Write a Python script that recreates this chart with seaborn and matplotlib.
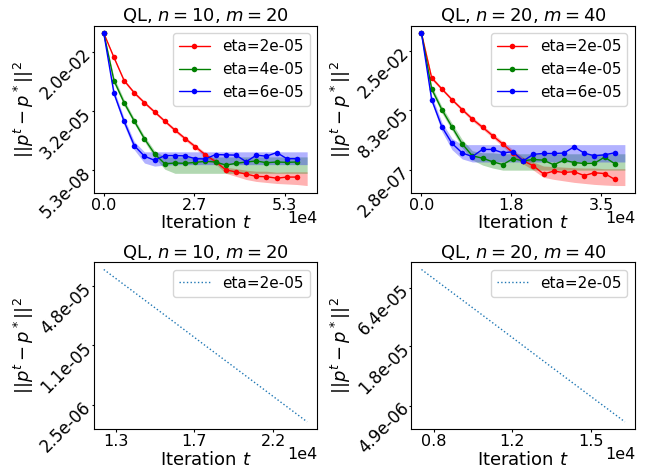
import matplotlib
matplotlib.use("Agg")
import matplotlib.pyplot as plt
from matplotlib.ticker import NullLocator, NullFormatter
import seaborn as sns

# ---------------- QL, n=10, m=20 (mean error, recorded every 3000 iterations) ----------------
iters_a = list(range(0, 57001, 3000))
band_iters_a = list(range(0, 60001, 3000))
err_a_eta2 = [1.52e-1, 1.10e-2, 9.0e-4, 2.39e-4, 8.2e-5, 3.0e-5, 1.11e-5, 4.2e-6, 1.69e-6, 7.0e-7,
              2.88e-7, 1.37e-7, 5.7e-8, 4.5e-8, 3.6e-8, 2.8e-8, 2.7e-8, 2.3e-8, 2.6e-8, 2.6e-8]
err_a_eta4 = [1.52e-1, 9.0e-4, 8.2e-5, 1.11e-5, 1.64e-6, 3.2e-7, 1.10e-7, 1.19e-7, 1.15e-7, 1.28e-7,
              1.43e-7, 1.33e-7, 9.5e-8, 1.15e-7, 1.33e-7, 1.48e-7, 1.23e-7, 1.33e-7, 1.28e-7, 1.33e-7]
err_a_eta6 = [1.52e-1, 2.29e-4, 1.08e-5, 7.8e-7, 2.49e-7, 1.60e-7, 2.67e-7, 2.67e-7, 2.58e-7, 1.91e-7,
              1.85e-7, 2.98e-7, 2.88e-7, 2.79e-7, 1.37e-7, 2.79e-7, 2.49e-7, 3.7e-7, 1.91e-7, 1.91e-7]
hi_a_eta2 = [1.52e-1, 1.26e-2, 1.04e-3, 2.75e-4, 9.6e-5, 3.56e-5, 1.31e-5, 5.1e-6, 2.0e-6, 8.7e-7, 3.6e-7,
             1.75e-7, 7.6e-8, 6.5e-8, 5.5e-8, 4.9e-8, 4.9e-8, 4.4e-8, 4.6e-8, 4.6e-8, 4.6e-8]
lo_a_eta2 = [1.52e-1, 9.5e-3, 7.5e-4, 1.98e-4, 6.9e-5, 2.55e-5, 9.4e-6, 3.47e-6, 1.36e-6, 5.6e-7, 2.18e-7,
             1.06e-7, 3.9e-8, 2.8e-8, 2.0e-8, 1.62e-8, 1.45e-8, 1.30e-8, 1.23e-8, 1.16e-8, 1.04e-8]
hi_a_eta4 = [1.52e-1, 1.30e-3, 1.14e-4, 1.47e-5, 2.23e-6, 4.5e-7, 2.31e-7] + [2.31e-7] * 14
lo_a_eta4 = [1.52e-1, 6.7e-4, 5.9e-5, 8.4e-6, 1.21e-6, 2.18e-7, 6.1e-8] + [3.9e-8] * 14
hi_a_eta6 = [1.52e-1, 3.4e-4, 1.55e-5, 1.21e-6, 4.0e-7, 4.0e-7, 4.0e-7] + [4.0e-7] * 14
lo_a_eta6 = [1.52e-1, 1.58e-4, 7.1e-6, 5.0e-7, 1.19e-7, 8.5e-8, 9.5e-8] + [1.0e-7] * 14
xticks_a = [0, 26667, 53333]
xlabels_a = ["0.0", "2.7", "5.3"]
yticks_a = [2.0e-2, 3.2e-5, 5.3e-8]
ylabels_a = ["2.0e-02", "3.2e-05", "5.3e-08"]

# ---------------- QL, n=20, m=40 (mean error, recorded every 2000 iterations) ----------------
iters_b = list(range(0, 38001, 2000))
band_iters_b = list(range(0, 40001, 2000))
err_b_eta2 = [1.32e-1, 1.84e-3, 6.4e-4, 2.29e-4, 8.9e-5, 3.58e-5, 1.64e-5, 7.3e-6, 3.27e-6, 1.42e-6,
              6.6e-7, 4.1e-7, 1.88e-7, 2.45e-7, 2.16e-7, 2.33e-7, 1.61e-7, 2.11e-7, 1.95e-7, 1.12e-7]
err_b_eta4 = [1.32e-1, 6.4e-4, 8.9e-5, 1.69e-5, 3.36e-6, 1.06e-6, 8.5e-7, 6.0e-7, 4.6e-7, 8.1e-7,
              6.6e-7, 7.5e-7, 7.0e-7, 4.5e-7, 7.0e-7, 5.6e-7, 5.1e-7, 5.2e-7, 9.4e-7, 5.0e-7]
err_b_eta6 = [1.32e-1, 2.29e-4, 1.72e-5, 3.50e-6, 1.40e-6, 9.9e-7, 1.96e-6, 1.96e-6, 1.42e-6, 1.57e-6,
              6.5e-7, 1.23e-6, 1.33e-6, 1.33e-6, 1.38e-6, 2.51e-6, 1.38e-6, 1.06e-6, 1.17e-6, 1.42e-6]
hi_b_eta2 = [1.32e-1, 2.17e-3, 7.4e-4, 2.65e-4, 1.05e-4, 4.36e-5, 1.99e-5, 9.1e-6, 4.17e-6, 1.91e-6, 9.2e-7,
             5.9e-7, 4.0e-7, 3.8e-7, 3.6e-7, 3.4e-7, 3.3e-7, 3.3e-7, 3.1e-7, 3.1e-7, 3.1e-7]
lo_b_eta2 = [1.32e-1, 1.54e-3, 5.5e-4, 1.98e-4, 7.5e-5, 2.94e-5, 1.35e-5, 5.9e-6, 2.56e-6, 1.06e-6, 4.9e-7,
             2.70e-7, 1.36e-7, 1.12e-7, 9.7e-8, 8.4e-8, 7.6e-8, 6.9e-8, 6.5e-8, 6.2e-8, 6.2e-8]
hi_b_eta4 = [1.32e-1, 8.6e-4, 1.21e-4, 2.42e-5, 5.1e-6, 1.73e-6, 1.42e-6, 1.42e-6] + [1.29e-6] * 13
lo_b_eta4 = [1.32e-1, 4.78e-4, 6.4e-5, 1.22e-5, 2.32e-6, 7.2e-7, 4.4e-7, 3.3e-7] + [2.70e-7] * 13
hi_b_eta6 = [1.32e-1, 3.39e-4, 2.67e-5, 5.6e-6, 3.1e-6] + [3.1e-6] * 16
lo_b_eta6 = [1.32e-1, 1.71e-4, 1.11e-5, 1.91e-6, 7.9e-7] + [5.9e-7] * 16
xticks_b = [0, 17667, 35333]
xlabels_b = ["0.0", "1.8", "3.5"]
yticks_b = [2.5e-2, 8.3e-5, 2.8e-7]
ylabels_b = ["2.5e-02", "8.3e-05", "2.8e-07"]

# ---------------- late-phase decay, eta=2e-05 ----------------
iters_c = [12000, 13500, 15000, 16500, 18000, 19500, 21000, 22500, 24000]
err_c = [7.31e-5, 4.55e-5, 2.83e-5, 1.76e-5, 1.09e-5, 6.79e-6, 4.22e-6, 2.62e-6, 1.63e-6]
xticks_c = [12700, 17350, 22000]
xlabels_c = ["1.3", "1.7", "2.2"]
yticks_c = [4.8e-5, 1.1e-5, 2.5e-6]
ylabels_c = ["4.8e-05", "1.1e-05", "2.5e-06"]

iters_d = [7500, 8650, 9800, 10950, 12100, 13250, 14400, 15550, 16700]
err_d = [9.57e-5, 6.32e-5, 4.18e-5, 2.76e-5, 1.82e-5, 1.20e-5, 7.94e-6, 5.25e-6, 3.47e-6]
xticks_d = [8050, 11600, 15150]
xlabels_d = ["0.8", "1.2", "1.5"]
yticks_d = [6.4e-5, 1.8e-5, 4.9e-6]
ylabels_d = ["6.4e-05", "1.8e-05", "4.9e-06"]

eta_labels = ["eta=2e-05", "eta=4e-05", "eta=6e-05"]
eta_colors = ["red", "green", "blue"]

sns.set_style("ticks", {"axes.edgecolor": "black", "xtick.color": "black", "ytick.color": "black",
                        "text.color": "black", "axes.labelcolor": "black"})
plt.rcParams["font.family"] = ["DejaVu Sans"]
plt.rcParams["mathtext.fontset"] = "dejavusans"
plt.rcParams.update({
    "xtick.major.size": 1.8, "ytick.major.size": 1.8,
    "xtick.major.pad": 1.4, "ytick.major.pad": 1.8,
    "axes.titlepad": 3.0, "axes.labelpad": 1.2,
})

fig, axes = plt.subplots(2, 2, figsize=(6.5, 4.73), dpi=100)
fig.subplots_adjust(left=0.144, right=0.977, bottom=0.092, top=0.946, wspace=0.42, hspace=0.41)


def style_axis(ax, title, xticks, xlabels, yticks, ylabels):
    ax.set_yscale("log")
    ax.set_title(title, fontsize=13)
    ax.set_xlabel(r"Iteration $t$", fontsize=13)
    ax.set_ylabel(r"$||p^t - p^*||^2$", fontsize=13)
    ax.set_xticks(xticks, labels=xlabels)
    ax.set_yticks(yticks, labels=ylabels)
    ax.yaxis.set_minor_locator(NullLocator())
    ax.yaxis.set_minor_formatter(NullFormatter())
    ax.tick_params(axis="x", labelsize=11.5)
    ax.tick_params(axis="y", labelsize=12)
    for lab in ax.get_yticklabels():
        lab.set_rotation(45)
        lab.set_rotation_mode("anchor")
        lab.set_ha("right")
        lab.set_va("center")
    # scale factor of the iteration axis, placed under its right end
    ax.annotate("1e4", xy=(1, 0), xycoords="axes fraction", xytext=(0, -12.5),
                textcoords="offset points", ha="right", va="top", fontsize=11.5)
    ax.legend(loc="upper right", fontsize=11)


def eta_panel(ax, iters, band_iters, means, highs, lows):
    for mean, hi, lo, color, label in zip(means, highs, lows, eta_colors, eta_labels):
        ax.fill_between(band_iters, lo, hi, color=color, alpha=0.3, lw=0)
        sns.lineplot(x=iters, y=mean, ax=ax, color=color, marker="o", markersize=4,
                     markeredgecolor=color, markeredgewidth=0, lw=1, label=label)


eta_panel(axes[0, 0], iters_a, band_iters_a,
          [err_a_eta2, err_a_eta4, err_a_eta6],
          [hi_a_eta2, hi_a_eta4, hi_a_eta6],
          [lo_a_eta2, lo_a_eta4, lo_a_eta6])
style_axis(axes[0, 0], r"QL, $n=10$, $m=20$", xticks_a, xlabels_a, yticks_a, ylabels_a)

eta_panel(axes[0, 1], iters_b, band_iters_b,
          [err_b_eta2, err_b_eta4, err_b_eta6],
          [hi_b_eta2, hi_b_eta4, hi_b_eta6],
          [lo_b_eta2, lo_b_eta4, lo_b_eta6])
style_axis(axes[0, 1], r"QL, $n=20$, $m=40$", xticks_b, xlabels_b, yticks_b, ylabels_b)

sns.lineplot(x=iters_c, y=err_c, ax=axes[1, 0], color="tab:blue", linestyle=":", lw=1.0,
             label=eta_labels[0])
style_axis(axes[1, 0], r"QL, $n=10$, $m=20$", xticks_c, xlabels_c, yticks_c, ylabels_c)

sns.lineplot(x=iters_d, y=err_d, ax=axes[1, 1], color="tab:blue", linestyle=":", lw=1.0,
             label=eta_labels[0])
style_axis(axes[1, 1], r"QL, $n=20$, $m=40$", xticks_d, xlabels_d, yticks_d, ylabels_d)

fig.savefig("out.png", dpi=100)
